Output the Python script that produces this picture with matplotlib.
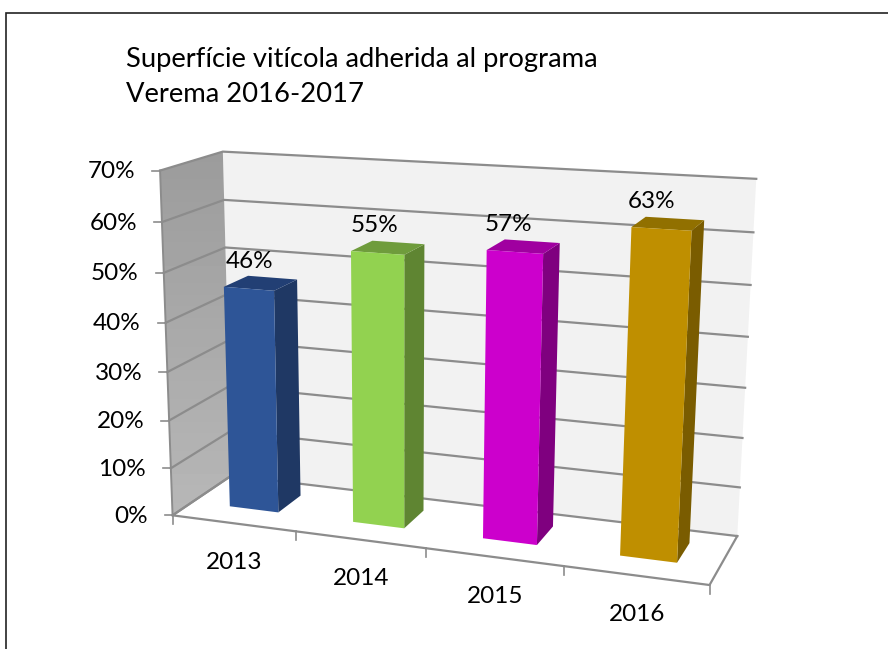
import matplotlib
matplotlib.use('Agg')
from matplotlib.patches import Polygon, Rectangle
import matplotlib.pyplot as plt
import numpy as np

title_lines = ['Superfície vitícola adherida al programa', 'Verema 2016-2017']
years = ['2013', '2014', '2015', '2016']
values = [46, 55, 57, 63]
value_labels = ['46%', '55%', '57%', '63%']
y_ticks = [0, 10, 20, 30, 40, 50, 60, 70]
y_tick_labels = ['0%', '10%', '20%', '30%', '40%', '50%', '60%', '70%']

front_colors = ['#2e5597', '#92d250', '#cc00cc', '#bf8f00']
side_colors = ['#1f3864', '#5f8532', '#7f007f', '#7a5c00']
top_colors = ['#223f74', '#6f9c3c', '#a000a0', '#917000']

W, H = 888, 649
GRID = '#8c8c8c'

# frame of the 3d box: (category, depth, value) -> picture pixel
box_model = [(0, 0, 0), (0, 0, 70), (0, 1, 0), (0, 1, 70), (4, 1, 0), (4, 1, 70), (4, 0, 0)]
box_image = [(175, 515), (158, 170), (229, 476), (225, 152), (738, 535), (756, 179), (709, 586)]


def fit_camera(model, image):
    rows, rhs = [], []
    for (x, y, z), (u, v) in zip(model, image):
        rows.append([x, y, z, 1, 0, 0, 0, 0, -u * x, -u * y, -u * z])
        rows.append([0, 0, 0, 0, x, y, z, 1, -v * x, -v * y, -v * z])
        rhs += [u, v]
    p = np.linalg.lstsq(np.array(rows, float), np.array(rhs, float), rcond=None)[0]
    return np.append(p, 1).reshape(3, 4)


cam = fit_camera(box_model, box_image)


def pr(x, y, z):
    u, v, w = cam @ np.array([x, y, z, 1.0])
    return u / w, v / w


fig = plt.figure(figsize=(W / 100, H / 100), dpi=100)
plt.rcParams['font.family'] = ['Lato', 'DejaVu Sans']
ax = fig.add_axes([0, 0, 1, 1])
ax.set_xlim(0, W)
ax.set_ylim(H, 0)
ax.axis('off')

ax.add_patch(Rectangle((6, 12.5), 900, 700, fc='white', ec='#222222', lw=1.2, zorder=0))

# walls, the side one goes a bit lighter towards the floor
ax.add_patch(Polygon([pr(0, 1, 0), pr(4, 1, 0), pr(4, 1, 70), pr(0, 1, 70)], fc='#f2f2f2', ec='none', zorder=1))
side_wall = Polygon([pr(0, 0, 0), pr(0, 1, 0), pr(0, 1, 70), pr(0, 0, 70)], fc='none', ec='none', zorder=1)
ax.add_patch(side_wall)
shade = np.linspace(0.61, 0.72, 64).reshape(-1, 1)
im = ax.imshow(shade, cmap='gray', vmin=0, vmax=1, extent=(150, 240, 520, 150), aspect='auto', zorder=1)
im.set_clip_path(side_wall)
ax.set_xlim(0, W)
ax.set_ylim(H, 0)

# gridlines and y ticks
for t, lab in zip(y_ticks, y_tick_labels):
    a, b, c = pr(0, 0, t), pr(0, 1, t), pr(4, 1, t)
    ax.plot([a[0], b[0], c[0]], [a[1], b[1], c[1]], color=GRID, lw=1.6, zorder=2, solid_joinstyle='miter')
    ax.plot([a[0] - 8, a[0]], [a[1], a[1]], color=GRID, lw=1.2, zorder=2)
    ax.text(a[0] - 25, a[1] + 1, lab, ha='right', va='center', fontsize=17.5, color='black')

# floor edges
floor = [pr(0, 1, 0), pr(0, 0, 0), pr(4, 0, 0), pr(4, 1, 0)]
ax.plot(*zip(*floor), color=GRID, lw=1.6, zorder=2)
ax.plot(*zip(pr(0, 0, 70), pr(0, 0, 0)), color=GRID, lw=1.4, zorder=2)

# category ticks and labels
for i in range(5):
    p = pr(i, 0, 0)
    ax.plot([p[0], p[0]], [p[1], p[1] + 9], color=GRID, lw=1.2, zorder=2)
for i, yr in enumerate(years):
    p = pr(i + 0.5, 0, 0)
    ax.text(p[0] + 1, p[1] + 39, yr, ha='center', va='center', fontsize=17.5, color='black')

# bars
x0, x1, d0, d1 = 0.31, 0.71, 0.33, 0.74
for i, v in enumerate(values):
    l, r = i + x0, i + x1
    ax.add_patch(Polygon([pr(r, d0, 0), pr(r, d1, 0), pr(r, d1, v), pr(r, d0, v)], fc=side_colors[i], ec='none', zorder=3))
    ax.add_patch(Polygon([pr(l, d0, v), pr(r, d0, v), pr(r, d1, v), pr(l, d1, v)], fc=top_colors[i], ec='none', zorder=3))
    ax.add_patch(Polygon([pr(l, d0, 0), pr(r, d0, 0), pr(r, d0, v), pr(l, d0, v)], fc=front_colors[i], ec='none', zorder=4))
    p = pr(i + 0.5, d0, v)
    ax.text(p[0] + 2 - 3.3 * i, p[1] - 27, value_labels[i], ha='center', va='center', fontsize=17.5, color='black', zorder=5)

ax.text(126, 59, title_lines[0], ha='left', va='center', fontsize=19.7, color='black')
ax.text(126, 94, title_lines[1], ha='left', va='center', fontsize=19.7, color='black')

fig.savefig('out.png', dpi=100)
